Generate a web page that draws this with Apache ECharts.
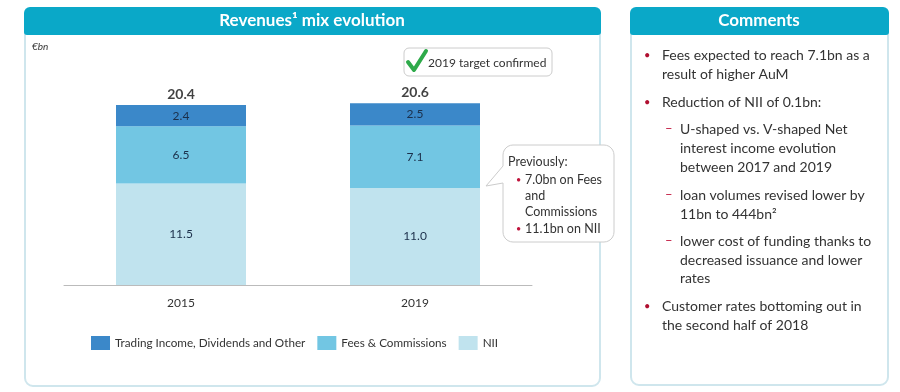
<!DOCTYPE html>
<html><head><meta charset="utf-8">
<script src="https://cdn.jsdelivr.net/npm/echarts@6/dist/echarts.min.js"></script>
<style>html,body{margin:0;padding:0;background:#fff}#c{width:900px;height:392px}</style>
</head><body><div id="c"></div>
<script>
var categories = ['2015', '2019'];
var seriesNames = ['Trading Income, Dividends and Other', 'Fees & Commissions', 'NII'];
var trading = [2.4, 2.5];
var fees = [6.5, 7.1];
var nii = [11.5, 11.0];
var totals = [20.4, 20.6];
var commentLines = [
  ['b', 'Fees expected to reach 7.1bn as a', 55],
  ['', 'result of higher AuM', 74],
  ['b', 'Reduction of NII of 0.1bn:', 102],
  ['d', 'U-shaped vs. V-shaped Net', 129],
  ['i', 'interest income evolution', 148],
  ['i', 'between 2017 and 2019', 167],
  ['d', 'loan volumes revised lower by', 195],
  ['i', '11bn to 444bn\u00b2', 214],
  ['d', 'lower cost of funding thanks to', 241],
  ['i', 'decreased issuance and lower', 260],
  ['i', 'rates', 278],
  ['b', 'Customer rates bottoming out in', 306],
  ['', 'the second half of 2018', 325]
];
var calloutLines = [
  ['h', 'Previously:', 162],
  ['b', '7.0bn on Fees', 180],
  ['', 'and', 196],
  ['', 'Commissions', 212],
  ['b', '11.1bn on NII', 229]
];

var FONT = 'Lato, "Noto Sans", sans-serif';
var colors = ['#3b88c9', '#72c6e3', '#c0e3ee'];
var chart = echarts.init(document.getElementById('c'));

function arcPts(cx, cy, r, a0, a1) {
  var pts = [];
  for (var i = 0; i <= 6; i++) {
    var a = a0 + (a1 - a0) * i / 6;
    pts.push([cx + r * Math.cos(a), cy + r * Math.sin(a)]);
  }
  return pts;
}

var g = [];
// left panel
g.push({type:'rect', shape:{x:25, y:8, width:575, height:378, r:8}, style:{fill:'#fff', stroke:'#cfe6ed', lineWidth:2}, z:-10});
g.push({type:'rect', shape:{x:24, y:7, width:577, height:28, r:[6,6,3,3]}, style:{fill:'#0aa8c8'}, z:-9});
g.push({type:'text', x:312, y:21, style:{text:'Revenues\u00b9 mix evolution', fill:'#fff', font:'bold 17px ' + FONT, align:'center', verticalAlign:'middle'}});
// right panel
g.push({type:'rect', shape:{x:631, y:8, width:257, height:377, r:8}, style:{fill:'#fff', stroke:'#cfe6ed', lineWidth:2}, z:-10});
g.push({type:'rect', shape:{x:630, y:7, width:259, height:28, r:[6,6,3,3]}, style:{fill:'#0aa8c8'}, z:-9});
g.push({type:'text', x:759, y:21, style:{text:'Comments', fill:'#fff', font:'bold 17px ' + FONT, align:'center', verticalAlign:'middle'}});
// unit
g.push({type:'text', x:32, y:47, style:{text:'\u20acbn', fill:'#333', font:'italic 10px ' + FONT, verticalAlign:'middle'}});
// target box
g.push({type:'rect', shape:{x:404, y:48, width:148, height:28, r:5}, style:{fill:'#fff', stroke:'#cccccc', lineWidth:1}});
g.push({type:'polyline', shape:{points:[[408,62],[414,70],[426,51]]}, style:{stroke:'#2eaa4a', lineWidth:4, fill:null, lineCap:'round', lineJoin:'round'}});
g.push({type:'text', x:428, y:63, style:{text:'2019 target confirmed', fill:'#333', font:'12px ' + FONT, verticalAlign:'middle'}});
// callout
var bx=503, by=145, bw=111, bh=97, r=10, P=Math.PI;
var pts = [];
pts = pts.concat(arcPts(bx+r, by+r, r, P, 1.5*P));
pts = pts.concat(arcPts(bx+bw-r, by+r, r, 1.5*P, 2*P));
pts = pts.concat(arcPts(bx+bw-r, by+bh-r, r, 0, 0.5*P));
pts = pts.concat(arcPts(bx+r, by+bh-r, r, 0.5*P, P));
pts.push([bx,183],[486,186],[bx,166]);
g.push({type:'polygon', shape:{points:pts}, style:{fill:'#fff', stroke:'#cccccc', lineWidth:1}});
calloutLines.forEach(function(l){
  if (l[0]==='b') g.push({type:'text', x:516, y:l[2], style:{text:'\u2022', fill:'#c0143c', font:'9px ' + FONT, verticalAlign:'middle'}});
  g.push({type:'text', x: l[0]==='h' ? 508 : 525, y:l[2], style:{text:l[1], fill:'#333', font:'12.5px ' + FONT, verticalAlign:'middle'}});
});
// comments
commentLines.forEach(function(l){
  var indent = (l[0]==='d' || l[0]==='i') ? 680 : 662;
  if (l[0]==='b') g.push({type:'text', x:644, y:l[2], style:{text:'\u2022', fill:'#b01030', font:'11px ' + FONT, verticalAlign:'middle'}});
  if (l[0]==='d') g.push({type:'text', x:665, y:l[2], style:{text:'\u2013', fill:'#c0143c', font:'13px ' + FONT, verticalAlign:'middle'}});
  g.push({type:'text', x:indent, y:l[2], style:{text:l[1], fill:'#333', font:'14px ' + FONT, verticalAlign:'middle'}});
});

var lbl = {show:true, position:'inside', color:'#1b2f4a', fontSize:12, fontFamily:FONT};
function fmt(p){ return p.value.toFixed(1); }
chart.setOption({
  animation:false,
  textStyle:{fontFamily:FONT},
  color: colors,
  grid:{left:64, right:368, top:91, bottom:107},
  legend:{
    data: seriesNames, left:86, top:331, icon:'rect', itemWidth:19, itemHeight:14, itemGap:12,
    textStyle:{color:'#333', fontSize:11.7, fontFamily:FONT}
  },
  xAxis:{type:'category', data:categories,
    axisLine:{lineStyle:{color:'#bbbbbb'}}, axisTick:{show:false},
    axisLabel:{color:'#333', fontSize:12, margin:12}},
  yAxis:{type:'value', min:0, max:22, show:false, splitLine:{show:false}},
  series:[
    {name:seriesNames[2], type:'bar', stack:'s', data:nii, barWidth:130, itemStyle:{color:colors[2]}, label:Object.assign({formatter:fmt}, lbl)},
    {name:seriesNames[1], type:'bar', stack:'s', data:fees, barWidth:130, itemStyle:{color:colors[1]}, label:Object.assign({formatter:fmt}, lbl)},
    {name:seriesNames[0], type:'bar', stack:'s', data:trading, barWidth:130, itemStyle:{color:colors[0]}, label:Object.assign({formatter:fmt}, lbl)},
    {name:'Total', type:'scatter', data:totals, symbolSize:0, silent:true,
      label:{show:true, position:'top', distance:4, color:'#111', fontWeight:'bold', fontSize:14, fontFamily:FONT, formatter:fmt}}
  ],
  graphic: g
});
</script></body></html>
